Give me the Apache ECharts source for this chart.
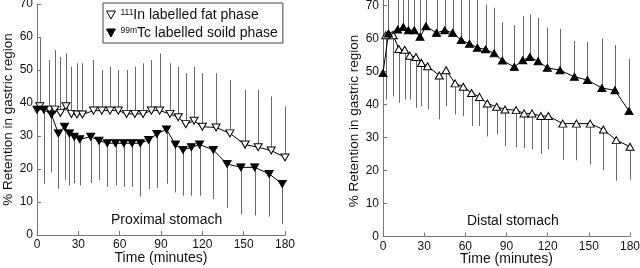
<!DOCTYPE html>
<html>
<head>
<meta charset="utf-8">
<script src="https://cdn.jsdelivr.net/npm/echarts@6/dist/echarts.min.js"></script>
<style>
  html, body { margin: 0; padding: 0; background: #fff; }
  #main { width: 640px; height: 268px; }
</style>
</head>
<body>
<div id="main"></div>
<script>
// proximal stomach (left panel)
var proxFatTime = [2, 9, 13, 17, 21, 25, 29, 33, 41, 47, 53, 59, 65, 71, 77, 83, 89, 96.5, 102.5, 108, 114, 120, 130, 140, 151, 160.5, 170, 180]
var proxFat = [39, 38, 38, 37, 39, 36.7, 36.5, 36.5, 37.7, 37.7, 37.7, 37.7, 36.7, 36.7, 36.7, 37.7, 37.7, 36.7, 35.7, 33.6, 34.6, 32.8, 32.6, 30.8, 27.4, 26.6, 25.6, 23.5]
var proxFatHigh = [59.6, 53, 56, 54, 55, 51, 52, 52, 53, 50, 51, 50, 50, 51, 52, 53, 55, 52, 51, 49, 51, 49, 49, 47, 44, 44, 42, 39]

var proxSolidTime = [0, 5, 10.5, 15.5, 20, 23.5, 27, 31, 39, 45, 51, 57, 63, 69, 75, 81, 87, 94, 100.5, 106, 112, 118, 128, 138, 148, 158, 168.5, 178]
var proxSolid = [38, 38, 36.5, 30.8, 32.8, 30.8, 29.8, 29, 29.8, 28.6, 27.8, 27.8, 27.8, 27.8, 27.8, 28.8, 30.6, 32, 27.4, 25.8, 26.6, 27.4, 25.8, 21.5, 20.5, 20.5, 18.5, 15.5]
var proxSolidLow = [38, 15.5, 19, 14, 16.7, 15, 15.7, 15, 15.7, 16.7, 14.6, 15, 14.6, 14.6, 11.6, 13.9, 14.2, 15.5, 12.9, 11.9, 11.9, 11.9, 10.9, 8.2, 6.4, 5.9, 5.6, 3.3]

// distal stomach (right panel)
var distFatTime = [2, 7.5, 11.5, 15.8, 19.5, 24, 28, 32.5, 41, 46, 52.5, 58.5, 64.5, 70.3, 76, 82.8, 88.9, 97, 102.8, 108.6, 115, 120.5, 131, 141, 151, 160.6, 170, 180]
var distFat = [61, 61, 56.8, 56.6, 54.8, 54.4, 52.6, 51.6, 48.8, 50.4, 46.4, 45.4, 43.5, 42.3, 40.3, 39.3, 38.5, 38.3, 37.3, 37.3, 36.5, 36.5, 34.2, 34.2, 34.2, 32.4, 29.2, 27.2]
var distFatLow = [41.5, 42.5, 40.5, 41.5, 41.5, 39, 39.5, 38.5, 35.5, 39.5, 37, 36.5, 33.5, 33.5, 30.3, 31, 27.4, 27, 26.8, 26.4, 25, 26.4, 23.2, 23.1, 21.8, 20.1, 16.9, 17.2]

var distSolidTime = [0, 4, 10.7, 14.8, 18.5, 22.8, 27, 31.3, 39, 45, 50.8, 57, 63, 68.8, 74.8, 81, 87, 95.7, 101.8, 107, 113, 119.8, 129, 139.5, 149, 159.5, 169, 179.3]
var distSolid = [49.5, 61.5, 62.7, 63.5, 62.5, 62.5, 60.5, 63.7, 61.7, 62.5, 61.7, 59.5, 58.4, 57.2, 56.7, 55.5, 53.3, 51.4, 53.4, 54.4, 53.1, 51.1, 50.4, 48.4, 47.4, 45, 44.3, 38]
var distSolidHigh = [71.8, 71.8, 71.8, 71.8, 71.8, 71.8, 71.8, 71.8, 71.8, 71.8, 71.8, 71.8, 71.8, 71.8, 70.3, 69.3, 64.9, 64, 66.8, 67.3, 66.3, 63.3, 62.9, 59.2, 58.9, 60, 58, 53.8]

var FONT = 'Liberation Sans, Arial, sans-serif'
var DOWN = 'path://M0,0L10,0L5,9Z'
var UP = 'path://M5,0L10,9L0,9Z'

function pairs(xs, ys) {
  return xs.map(function (x, i) { return [x, ys[i]] })
}
function triples(xs, ys, es) {
  return xs.map(function (x, i) { return [x, ys[i], es[i]] })
}

// vertical error bar, drawn from the mean to the end value
function renderBar(params, api) {
  var p1 = api.coord([api.value(0), api.value(1)])
  var p2 = api.coord([api.value(0), api.value(2)])
  var x = Math.round(p1[0]) + 0.5
  return {
    type: 'line',
    shape: { x1: x, y1: p1[1], x2: x, y2: p2[1] },
    style: { stroke: '#6a6a6a', lineWidth: 1 }
  }
}

function barSeries(idx, data) {
  return {
    type: 'custom', xAxisIndex: idx, yAxisIndex: idx, clip: false, silent: true,
    renderItem: renderBar, encode: { x: 0, y: [1, 2] }, data: data, z: 1
  }
}

function meanSeries(name, idx, data, symbol, filled) {
  return {
    name: name, type: 'line', xAxisIndex: idx, yAxisIndex: idx,
    data: data, symbol: symbol, symbolSize: [8, 7], showSymbol: true,
    lineStyle: { color: '#000', width: 1 },
    itemStyle: { color: filled ? '#000' : '#fff', borderColor: '#000', borderWidth: 1 },
    emphasis: { disabled: true }, z: 3
  }
}

function xAx(idx) {
  return {
    type: 'value', gridIndex: idx, min: 0, max: 180, interval: 30,
    name: 'Time (minutes)', nameLocation: 'middle', nameGap: 16, nameMoveOverlap: false,
    nameTextStyle: { fontSize: 14, color: '#111', fontFamily: FONT },
    axisLine: { lineStyle: { color: '#777' } },
    axisTick: { inside: true, length: 4, lineStyle: { color: '#777' } },
    axisLabel: { fontSize: 12, color: '#111', margin: 4, fontFamily: FONT },
    splitLine: { show: false }
  }
}
function yAx(idx) {
  return {
    type: 'value', gridIndex: idx, min: 0, max: 70, interval: 10,
    name: '% Retention in gastric region', nameLocation: 'middle', nameGap: 22, nameMoveOverlap: false,
    nameTextStyle: { fontSize: 13.5, color: '#111', fontFamily: FONT },
    axisLine: { show: true, lineStyle: { color: '#777' } },
    axisTick: { show: true, inside: true, length: 4, lineStyle: { color: '#777' } },
    axisLabel: { fontSize: 12, color: '#111', margin: 4, fontFamily: FONT },
    splitLine: { show: false }
  }
}

var myChart = echarts.init(document.getElementById('main'))
myChart.setOption({
  animation: false,
  title: [
    { text: 'Proximal stomach', left: 106, top: 208, textStyle: { fontSize: 14, fontWeight: 'normal', color: '#111', fontFamily: FONT } },
    { text: 'Distal stomach', left: 462, top: 209, textStyle: { fontSize: 14, fontWeight: 'normal', color: '#111', fontFamily: FONT } }
  ],
  legend: {
    orient: 'vertical', left: 103, top: 3, padding: [5, 5, 3, 3], itemGap: 4,
    itemWidth: 9, itemHeight: 8, borderColor: '#444', borderWidth: 1,
    data: [
      { name: 'fat', icon: DOWN, itemStyle: { color: '#fff', borderColor: '#000', borderWidth: 1 } },
      { name: 'solid', icon: DOWN, itemStyle: { color: '#000', borderColor: '#000', borderWidth: 1 } }
    ],
    formatter: function (name) {
      return name === 'fat' ? '{sup|111}{t|In labelled fat phase}' : '{sup|99m}{t|Tc labelled soild phase}'
    },
    textStyle: {
      fontFamily: FONT, color: '#111',
      rich: {
        sup: { fontSize: 8.5, verticalAlign: 'top', lineHeight: 14, fontFamily: FONT, color: '#111' },
        t: { fontSize: 14, lineHeight: 14, fontFamily: FONT, color: '#111' }
      }
    }
  },
  grid: [
    { left: 37, top: 4, width: 248, height: 231, outerBoundsMode: 'none' },
    { left: 383, top: 5.5, width: 247, height: 231, outerBoundsMode: 'none' }
  ],
  xAxis: [xAx(0), xAx(1)],
  yAxis: [yAx(0), yAx(1)],
  series: [
    barSeries(0, triples(proxFatTime, proxFat, proxFatHigh)),
    barSeries(0, triples(proxSolidTime, proxSolid, proxSolidLow)),
    meanSeries('fat', 0, pairs(proxFatTime, proxFat), DOWN, false),
    meanSeries('solid', 0, pairs(proxSolidTime, proxSolid), DOWN, true),
    barSeries(1, triples(distFatTime, distFat, distFatLow)),
    barSeries(1, triples(distSolidTime, distSolid, distSolidHigh)),
    meanSeries('distal fat', 1, pairs(distFatTime, distFat), UP, false),
    meanSeries('distal solid', 1, pairs(distSolidTime, distSolid), UP, true)
  ]
})
</script>
</body>
</html>
